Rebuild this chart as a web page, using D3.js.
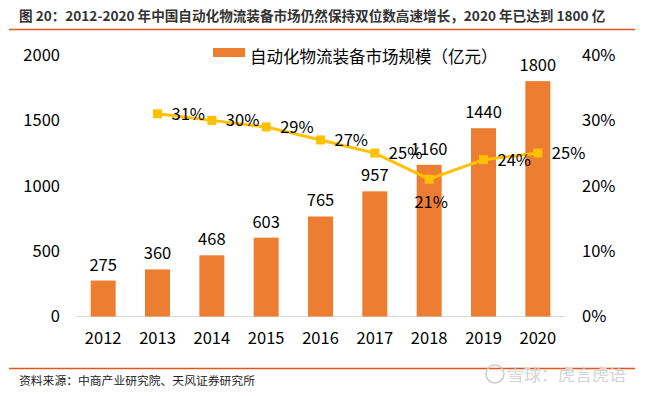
<!DOCTYPE html>
<html>
<head>
<meta charset="utf-8">
<script src="https://cdn.jsdelivr.net/npm/d3@7"></script>
<style>
  body { margin: 0; background: #fff; }
  text { font-family: "Noto Sans CJK SC", "Noto Sans", sans-serif; }
</style>
</head>
<body>
<svg id="chart" width="662" height="396"></svg>
<script>
"use strict";

const years = ["2012", "2013", "2014", "2015", "2016", "2017", "2018", "2019", "2020"];
const marketSize = [275, 360, 468, 603, 765, 957, 1160, 1440, 1800];
const growthYears = ["2013", "2014", "2015", "2016", "2017", "2018", "2019", "2020"];
const growth = [0.31, 0.30, 0.29, 0.27, 0.25, 0.21, 0.24, 0.25];
const leftTicks = [0, 500, 1000, 1500, 2000];
const rightTicks = [0, 0.1, 0.2, 0.3, 0.4];

const svg = d3.select("#chart");

// title + rules
svg.append("text")
  .attr("x", 19).attr("y", 21)
  .attr("font-size", 13.6).attr("font-weight", "bold").attr("fill", "#333")
  .text("图 20：2012-2020 年中国自动化物流装备市场仍然保持双位数高速增长，2020 年已达到 1800 亿");

svg.append("line")
  .attr("x1", 9).attr("x2", 635).attr("y1", 29.5).attr("y2", 29.5)
  .attr("stroke", "#E0561B").attr("stroke-width", 1.3);

svg.append("line")
  .attr("x1", 9).attr("x2", 635).attr("y1", 368.5).attr("y2", 368.5)
  .attr("stroke", "#E0561B").attr("stroke-width", 1.3);

svg.append("text")
  .attr("x", 19).attr("y", 385)
  .attr("font-size", 11.8).attr("fill", "#222")
  .text("资料来源：中商产业研究院、天风证券研究所");

// watermark
svg.append("circle").attr("cx", 495).attr("cy", 374).attr("r", 9)
  .attr("fill", "none").attr("stroke", "#ccc").attr("stroke-width", 1.5);
svg.append("text").attr("x", 507).attr("y", 381)
  .attr("font-size", 17).attr("fill", "#d4d4d4")
  .text("雪球：虎言虎语");

const x = d3.scaleBand().domain(years).range([76, 565]).paddingInner(0.54).paddingOuter(0.27);
const y = d3.scaleLinear().domain([0, 2000]).range([316.5, 55]);
const y2 = d3.scaleLinear().domain([0, 0.4]).range([316.5, 55]);

// axes
const leftAxis = svg.append("g")
  .attr("transform", "translate(60,0)")
  .call(d3.axisLeft(y).tickValues(leftTicks).tickFormat(d3.format("d")).tickSize(0).tickPadding(0));
leftAxis.select(".domain").remove();
leftAxis.selectAll("text").attr("font-size", 16.5).attr("fill", "#000").attr("font-family", "Noto Sans");

const rightAxis = svg.append("g")
  .attr("transform", "translate(582,0)")
  .call(d3.axisRight(y2).tickValues(rightTicks).tickFormat(d3.format(".0%")).tickSize(0).tickPadding(0));
rightAxis.select(".domain").remove();
rightAxis.selectAll("text").attr("font-size", 16.5).attr("fill", "#000").attr("font-family", "Noto Sans");

const bottomAxis = svg.append("g")
  .attr("transform", `translate(0,${y(0)})`)
  .call(d3.axisBottom(x).tickSize(0).tickPadding(16));
bottomAxis.select(".domain").attr("stroke", "#d9d9d9").attr("d", "M76,0H565");
bottomAxis.selectAll("text").attr("font-size", 16.5).attr("fill", "#000").attr("font-family", "Noto Sans");

// bars
svg.append("g").selectAll("rect")
  .data(marketSize)
  .join("rect")
  .attr("x", (d, i) => x(years[i]))
  .attr("width", x.bandwidth())
  .attr("y", (d) => y(d))
  .attr("height", (d) => y(0) - y(d))
  .attr("fill", "#ED7D31");

svg.append("g").selectAll("text")
  .data(marketSize)
  .join("text")
  .attr("x", (d, i) => x(years[i]) + x.bandwidth() / 2)
  .attr("y", (d) => y(d) - 10)
  .attr("text-anchor", "middle")
  .attr("font-size", 16.5).attr("font-family", "Noto Sans").attr("fill", "#000")
  .text((d) => d);

// growth line
const cx = (yr) => x(yr) + x.bandwidth() / 2;
const line = d3.line()
  .x((d, i) => cx(growthYears[i]))
  .y((d) => y2(d));

svg.append("path")
  .datum(growth)
  .attr("d", line)
  .attr("fill", "none")
  .attr("stroke", "#FFC000")
  .attr("stroke-width", 3);

svg.append("g").selectAll("rect")
  .data(growth)
  .join("rect")
  .attr("x", (d, i) => cx(growthYears[i]) - 4.5)
  .attr("y", (d) => y2(d) - 4.5)
  .attr("width", 9).attr("height", 9)
  .attr("fill", "#FFC000");

svg.append("g").selectAll("text")
  .data(growth)
  .join("text")
  .attr("x", (d, i) => growthYears[i] === "2018" ? cx(growthYears[i]) + 2 : cx(growthYears[i]) + 14)
  .attr("y", (d, i) => growthYears[i] === "2018" ? y2(d) + 29 : y2(d) + 6)
  .attr("text-anchor", (d, i) => growthYears[i] === "2018" ? "middle" : "start")
  .attr("font-size", 16.5).attr("font-family", "Noto Sans").attr("fill", "#000")
  .text((d) => d3.format(".0%")(d));

// legend
svg.append("rect").attr("x", 213).attr("y", 48).attr("width", 32).attr("height", 9).attr("fill", "#ED7D31");
svg.append("text").attr("x", 250).attr("y", 63)
  .attr("font-size", 16.5).attr("fill", "#000")
  .text("自动化物流装备市场规模（亿元）");
</script>
</body>
</html>
